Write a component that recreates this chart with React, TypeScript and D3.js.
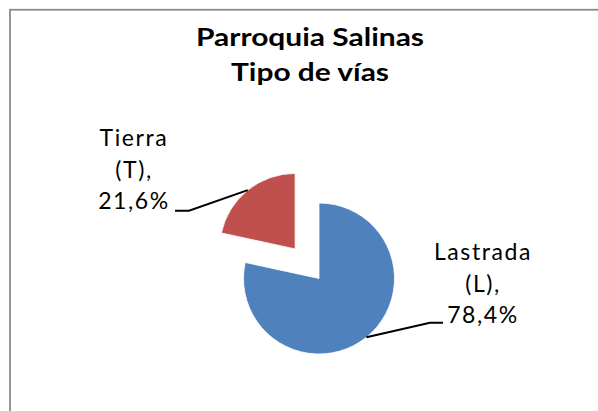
import React, { useEffect, useRef } from 'react';
import * as d3 from 'd3';

const categories = ['Lastrada (L)', 'Tierra (T)'];
const values = [78.4, 21.6];
const colors = ['#4F81BD', '#C0504D'];
const labelLines = [
  ['Lastrada', '(L),', '78,4%'],
  ['Tierra', '(T),', '21,6%'],
];
const titleLines = ['Parroquia Salinas', 'Tipo de vías'];

const W = 598;
const H = 411;

const App: React.FC = () => {
  const svgRef = useRef<SVGSVGElement>(null);

  useEffect(() => {
    if (!svgRef.current) return;
    const svg = d3.select(svgRef.current);
    svg.selectAll('*').remove();

    const font = 'Lato, "Open Sans", sans-serif';
    const cx = 319;
    const cy = 278.5;
    const radius = 75.5;
    const explode = [0, 38];

    // chart frame (runs past the right and bottom edges)
    svg.append('rect')
      .attr('x', 10)
      .attr('y', 9.75)
      .attr('width', 700)
      .attr('height', 500)
      .attr('fill', 'white')
      .attr('stroke', '#8a8a8a')
      .attr('stroke-width', 1.8);

    // title
    const titleLen = [228, 158];
    const titleY = [46, 81];
    svg.append('g')
      .selectAll('text')
      .data(titleLines)
      .enter().append('text')
      .attr('x', 310)
      .attr('y', (d, i) => titleY[i])
      .attr('text-anchor', 'middle')
      .attr('textLength', (d, i) => titleLen[i])
      .attr('lengthAdjust', 'spacingAndGlyphs')
      .style('font-family', font)
      .style('font-size', '24px')
      .style('font-weight', 'bold')
      .style('fill', '#000')
      .text(d => d);

    const data = categories.map((c, i) => ({ label: c, value: values[i], i }));
    const pie = d3.pie<typeof data[0]>().value(d => d.value).sort(null);
    const arc = d3.arc<d3.PieArcDatum<typeof data[0]>>()
      .innerRadius(0)
      .outerRadius(radius);

    const arcs = pie(data);
    const g = svg.append('g').attr('transform', `translate(${cx},${cy})`);

    const offset = (d: d3.PieArcDatum<typeof data[0]>) => {
      const mid = (d.startAngle + d.endAngle) / 2;
      const e = explode[d.data.i];
      return [Math.sin(mid) * e, -Math.cos(mid) * e];
    };

    g.selectAll('path')
      .data(arcs)
      .enter().append('path')
      .attr('d', arc)
      .attr('transform', d => `translate(${offset(d)})`)
      .attr('fill', d => colors[d.data.i])
      .attr('stroke', 'white')
      .attr('stroke-width', 0.8);

    // labels with leader lines
    const labelPos = [
      { x: 483, y: 260, elbow: [430, 322.7], end: [443, 322.7] },
      { x: 134, y: 146, elbow: [189, 210.7], end: [175, 210.7] },
    ];

    arcs.forEach(d => {
      const lp = labelPos[d.data.i];
      const [ox, oy] = offset(d);
      const mid = (d.startAngle + d.endAngle) / 2;
      const sx = cx + ox + Math.sin(mid) * radius;
      const sy = cy + oy - Math.cos(mid) * radius;
      svg.append('polyline')
        .attr('points', `${sx},${sy} ${lp.elbow[0]},${lp.elbow[1]} ${lp.end[0]},${lp.end[1]}`)
        .attr('fill', 'none')
        .attr('stroke', '#000')
        .attr('stroke-width', 2);

      svg.append('g')
        .selectAll('text')
        .data(labelLines[d.data.i])
        .enter().append('text')
        .attr('x', lp.x)
        .attr('y', (t, k) => lp.y + k * 31.7)
        .attr('text-anchor', 'middle')
        .style('font-family', font)
        .style('font-size', '23px')
        .style('letter-spacing', '1.6px')
        .style('fill', '#000')
        .text(t => t);
    });
  }, []);

  return (
    <svg
      ref={svgRef}
      width={W}
      height={H}
      style={{ position: 'absolute', left: 0, top: 0, display: 'block', background: 'white' }}
    />
  );
};

export default App;
